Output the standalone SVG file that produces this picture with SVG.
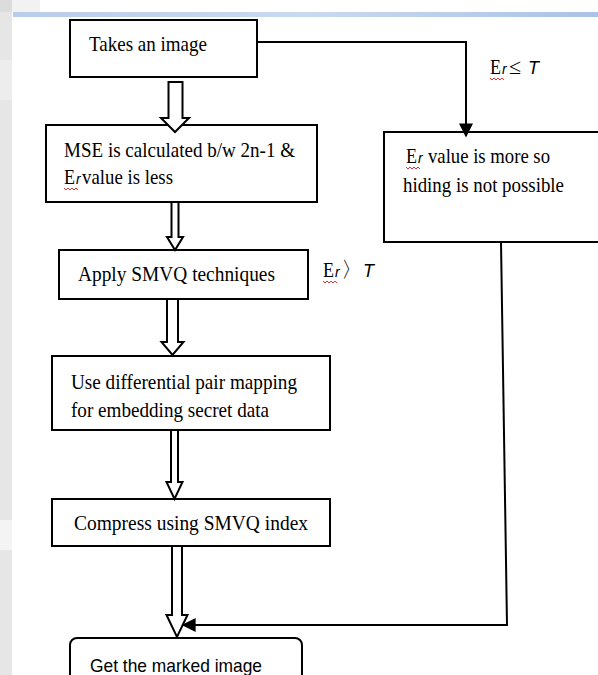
<svg xmlns="http://www.w3.org/2000/svg" width="598" height="675" viewBox="0 0 598 675">
<defs>
<style>
.box{fill:#fff;stroke:#000;stroke-width:2}
.t{font-family:"Liberation Serif","Times New Roman",serif;font-size:22px;fill:#000}
.s{font-family:"Liberation Sans",Arial,sans-serif;font-size:19px;fill:#000}
.ti{font-family:"Liberation Sans",Arial,sans-serif;font-style:italic;font-size:18px;fill:#000}
.sub{font-family:"Liberation Sans",Arial,sans-serif;font-style:italic;font-size:14px;fill:#000}
.blk{fill:#fff;stroke:#000;stroke-width:2;stroke-linejoin:miter}
.ln{fill:none;stroke:#000;stroke-width:2}
.sq{fill:none;stroke:#e03030;stroke-width:1}
</style>
<marker id="ah" viewBox="0 0 10 10" refX="9" refY="5" markerWidth="7.5" markerHeight="7" orient="auto" markerUnits="strokeWidth">
<path d="M0,0 L10,5 L0,10 Z" fill="#000"/>
</marker>
<linearGradient id="bl" x1="0" x2="1" y1="0" y2="0">
<stop offset="0" stop-color="#b8cdea"/>
<stop offset="0.5" stop-color="#c9daf0"/>
<stop offset="1" stop-color="#a9c3e6"/>
</linearGradient>
</defs>
<rect width="598" height="675" fill="#fff"/>
<g id="background">
<rect x="0" y="0" width="12" height="675" fill="#e6e6e6"/>
<rect x="0" y="0" width="40" height="12" fill="#f2f2f2"/>
<rect x="0" y="0" width="12" height="12" fill="#dcdcdc"/>
<rect x="0" y="60" width="12" height="40" fill="#ededed"/>
<rect x="0" y="520" width="12" height="30" fill="#f4f4f4"/>
<rect x="13" y="12" width="585" height="5" fill="url(#bl)"/>
</g>
<g id="n1">
<rect class="box" x="70" y="20" width="187" height="57"/>
<text class="t" x="89" y="51" textLength="118" lengthAdjust="spacingAndGlyphs">Takes an image</text>
</g>
<g id="n2">
<rect class="box" x="46" y="125" width="271" height="77"/>
<text class="t" x="64" y="157" textLength="231" lengthAdjust="spacingAndGlyphs">MSE is calculated b/w 2n-1 &amp;</text>
<text class="t" x="64" y="184" textLength="11" lengthAdjust="spacingAndGlyphs">E</text>
<text class="sub" x="76" y="184">r</text>
<text class="t" x="82" y="184" textLength="91" lengthAdjust="spacingAndGlyphs">value is less</text>
<path class="sq" d="M64,188 l2,2 l2,-2 l2,2 l2,-2 l2,2 l2,-2 l2,2"/>
</g>
<g id="n3">
<rect class="box" x="384" y="132" width="220" height="110"/>
<text class="t" x="406" y="163" textLength="11" lengthAdjust="spacingAndGlyphs">E</text>
<text class="sub" x="418" y="163">r</text>
<text class="t" x="428" y="163" textLength="122" lengthAdjust="spacingAndGlyphs">value is more so</text>
<path class="sq" d="M406,167 l2,2 l2,-2 l2,2 l2,-2 l2,2 l2,-2 l2,2"/>
<text class="t" x="403" y="192" textLength="161" lengthAdjust="spacingAndGlyphs">hiding is not possible</text>
</g>
<g id="n4">
<rect class="box" x="59" y="250" width="249" height="49"/>
<text class="t" x="78" y="281" textLength="197" lengthAdjust="spacingAndGlyphs">Apply SMVQ techniques</text>
</g>
<g id="n5">
<rect class="box" x="52" y="356" width="278" height="74"/>
<text class="t" x="71" y="389" textLength="226" lengthAdjust="spacingAndGlyphs">Use differential pair mapping</text>
<text class="t" x="71" y="417" textLength="198" lengthAdjust="spacingAndGlyphs">for embedding secret data</text>
</g>
<g id="n6">
<rect class="box" x="52" y="499" width="278" height="47"/>
<text class="t" x="74" y="530" textLength="234" lengthAdjust="spacingAndGlyphs">Compress using SMVQ index</text>
</g>
<g id="n7">
<rect class="box" x="70" y="638" width="232" height="60" rx="7"/>
<text class="s" x="90" y="672" textLength="172" lengthAdjust="spacingAndGlyphs">Get the marked image</text>
</g>
<g id="connectors">
<path class="blk" d="M168.5,82 L182.5,82 L182.5,118 L189,118 L175,132 L161,118 L168.5,118 Z"/>
<path class="blk" d="M171.5,202 L178.5,202 L178.5,237 L183,237 L175,250 L167,237 L171.5,237 Z"/>
<path class="blk" d="M167,299 L178,299 L178,342 L183.5,342 L172.5,355 L161.5,342 L167,342 Z"/>
<path class="blk" d="M171,430 L178,430 L178,482 L182.5,482 L174.5,499 L166.5,482 L171,482 Z"/>
<path class="blk" d="M172,546 L182,546 L182,615 L187.5,615 L177,637 L166.5,615 L172,615 Z"/>
<path class="ln" d="M257,42 L466,42 L466,136" marker-end="url(#ah)"/>
<path class="ln" d="M501,242 L507,625 L183,625" marker-end="url(#ah)"/>
</g>
<g id="labels">
<text class="t" x="490" y="74" textLength="11" lengthAdjust="spacingAndGlyphs">E</text>
<text class="sub" x="502" y="74">r</text>
<text class="t" x="509" y="74">≤</text>
<text class="ti" x="528" y="74">T</text>
<path class="sq" d="M490,78 l2,2 l2,-2 l2,2 l2,-2 l2,2 l2,-2 l2,2"/>
<text class="t" x="323" y="277" textLength="11" lengthAdjust="spacingAndGlyphs">E</text>
<text class="sub" x="335" y="277">r</text>
<text class="t" x="341" y="277" font-size="16">〉</text>
<text class="ti" x="363" y="277">T</text>
<path class="sq" d="M323,281 l2,2 l2,-2 l2,2 l2,-2 l2,2 l2,-2 l2,2"/>
</g>
</svg>
